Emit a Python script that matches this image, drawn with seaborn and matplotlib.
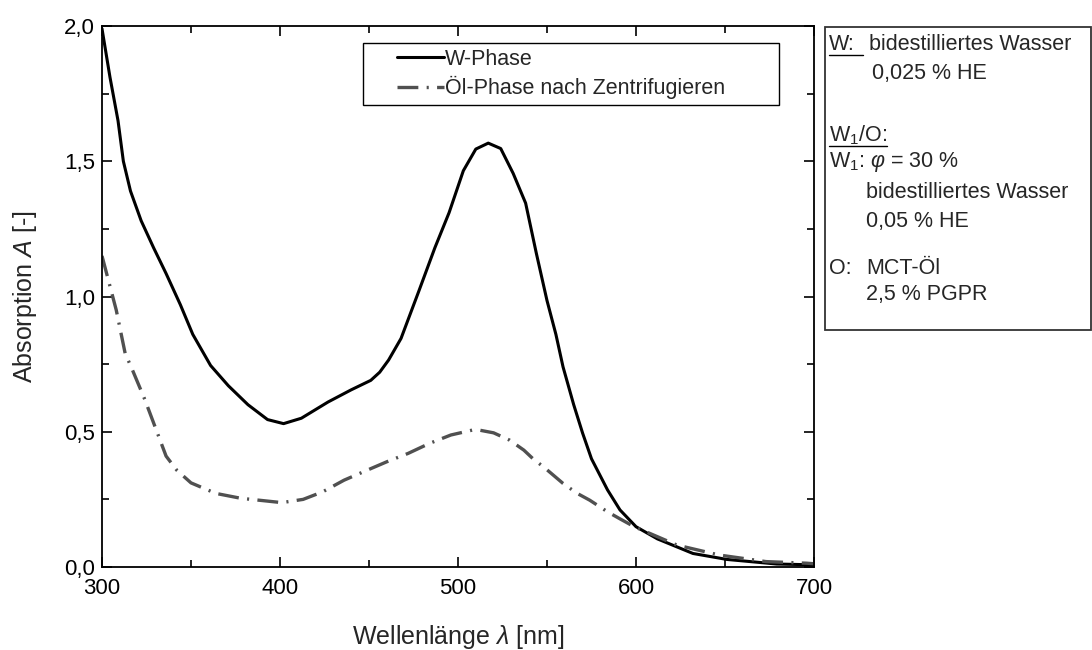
import numpy as np
import pandas as pd
import matplotlib
matplotlib.use("Agg")
import matplotlib.pyplot as plt
from matplotlib.ticker import FuncFormatter, MultipleLocator
from matplotlib.patches import Rectangle
from matplotlib.lines import Line2D
import seaborn as sns

# W-Phase
w_nm = [300, 304.5, 309, 312, 316, 322, 329, 336, 344, 351, 361, 371, 382, 393, 402, 412,
        427, 440, 451, 456, 461, 468, 478, 487, 495, 503, 510, 517, 524, 531, 538, 544,
        550, 555, 559, 565, 570, 575, 584, 591, 600, 612, 632, 651, 679, 700]
w_abs = [1.99, 1.81, 1.65, 1.50, 1.39, 1.28, 1.18, 1.085, 0.97, 0.86, 0.745, 0.67, 0.60,
         0.545, 0.53, 0.55, 0.61, 0.655, 0.69, 0.72, 0.765, 0.845, 1.02, 1.18, 1.31,
         1.465, 1.545, 1.567, 1.547, 1.455, 1.345, 1.16, 0.985, 0.86, 0.74, 0.60, 0.495,
         0.40, 0.285, 0.211, 0.149, 0.104, 0.05, 0.028, 0.011, 0.008]

# Oel-Phase nach Zentrifugieren
o_nm = [300, 304, 308, 313, 317, 324, 330, 336, 342, 350, 364, 378, 391, 401, 413, 424,
        436, 449, 460, 472, 484, 496, 508, 512, 520, 529, 537, 542, 549, 559, 567, 574,
        584, 591, 599, 623, 647, 673, 696, 700]
o_abs = [1.15, 1.05, 0.95, 0.79, 0.73, 0.62, 0.515, 0.41, 0.358, 0.311, 0.272, 0.254,
         0.245, 0.238, 0.25, 0.278, 0.321, 0.358, 0.389, 0.42, 0.457, 0.488, 0.506, 0.506,
         0.496, 0.469, 0.432, 0.401, 0.365, 0.309, 0.272, 0.247, 0.204, 0.178, 0.149,
         0.081, 0.044, 0.02, 0.014, 0.012]

labels = ["W-Phase", "Öl-Phase nach Zentrifugieren"]
x_ticks = [300, 400, 500, 600, 700]
y_ticks = [0.0, 0.5, 1.0, 1.5, 2.0]

sns.set_style("ticks")
plt.rcParams["font.family"] = ["Liberation Sans", "DejaVu Sans"]
plt.rcParams["mathtext.fontset"] = "custom"
plt.rcParams["mathtext.rm"] = "Liberation Sans"
plt.rcParams["mathtext.it"] = "Liberation Sans:italic"
plt.rcParams["mathtext.sf"] = "Liberation Sans"
plt.rcParams["lines.scale_dashes"] = False

W, H = 1092, 650
fig = plt.figure(figsize=(W / 100, H / 100), dpi=100)
ax = fig.add_axes([102 / W, 1 - 567 / H, (814 - 102) / W, (567 - 26) / H])

sns.lineplot(x=w_nm, y=w_abs, ax=ax, color="black", linewidth=2.2, label=labels[0])
sns.lineplot(x=o_nm, y=o_abs, ax=ax, color="#505050", linewidth=2.4,
             linestyle=(0, (15, 6, 1.5, 6)), label=labels[1])

ax.set_xlim(300, 700)
ax.set_ylim(0, 2.0)
ax.set_xticks(x_ticks)
ax.set_yticks(y_ticks)
ax.xaxis.set_minor_locator(MultipleLocator(50))
ax.yaxis.set_minor_locator(MultipleLocator(0.25))
ax.yaxis.set_major_formatter(FuncFormatter(lambda v, p: f"{v:.1f}".replace(".", ",")))
ax.tick_params(which="both", direction="in", top=True, right=True, labelsize=16,
               width=1.2, color="black", labelcolor="black")
ax.tick_params(which="major", length=7)
ax.tick_params(which="minor", length=5)
ax.tick_params(axis="x", pad=8)
ax.tick_params(axis="y", pad=5)
for s in ax.spines.values():
    s.set_linewidth(1.3)
    s.set_color("black")

ax.set_xlabel(r"Wellenlänge $\lambda$ [nm]", fontsize=18, labelpad=17)
ax.set_ylabel(r"Absorption $A$ [-]", fontsize=18, labelpad=18)

# legend with a fixed box like the reference
leg = ax.legend(loc="center left", bbox_to_anchor=(0.399, 0.9113), frameon=False,
                borderpad=0, fontsize=15.5, handlelength=2.2, handletextpad=0.05,
                labelspacing=0.28)
ax.add_patch(Rectangle((0.3666, 0.854), 0.5842, 0.1146, transform=ax.transAxes,
                       fill=False, edgecolor="black", linewidth=1.0, zorder=5))

# info box on the right
fig.patches.append(Rectangle((825 / W, 1 - 330 / H), (1091 - 825) / W, (330 - 27) / H,
                             transform=fig.transFigure, fill=False, edgecolor="#333333",
                             linewidth=1.3))


def ftxt(x, y, s, **kw):
    return fig.text(x / W, 1 - y / H, s, fontsize=15.5, va="center", ha="left", **kw)


t_w = ftxt(829, 45, "W:")
ftxt(869, 45, "bidestilliertes Wasser")
ftxt(872, 73, "0,025 % HE")
t_wo = ftxt(829, 135, r"W$_{1}$/O:")
ftxt(829, 162, r"W$_{1}$: $\varphi$ = 30 %")
ftxt(866, 193, "bidestilliertes Wasser")
ftxt(866, 221, "0,05 % HE")
ftxt(829, 268, "O:")
ftxt(866, 268, "MCT-Öl")
ftxt(866, 295, "2,5 % PGPR")

fig.canvas.draw()
r = fig.canvas.get_renderer()
for t, extra in [(t_w, 8), (t_wo, 0)]:
    bb = t.get_window_extent(r)
    fig.add_artist(Line2D([bb.x0 / W, (bb.x1 + extra) / W],
                          [(bb.y0 + 1) / H, (bb.y0 + 1) / H],
                          transform=fig.transFigure, color="black", linewidth=1.0))

fig.savefig("out.png", dpi=100)
